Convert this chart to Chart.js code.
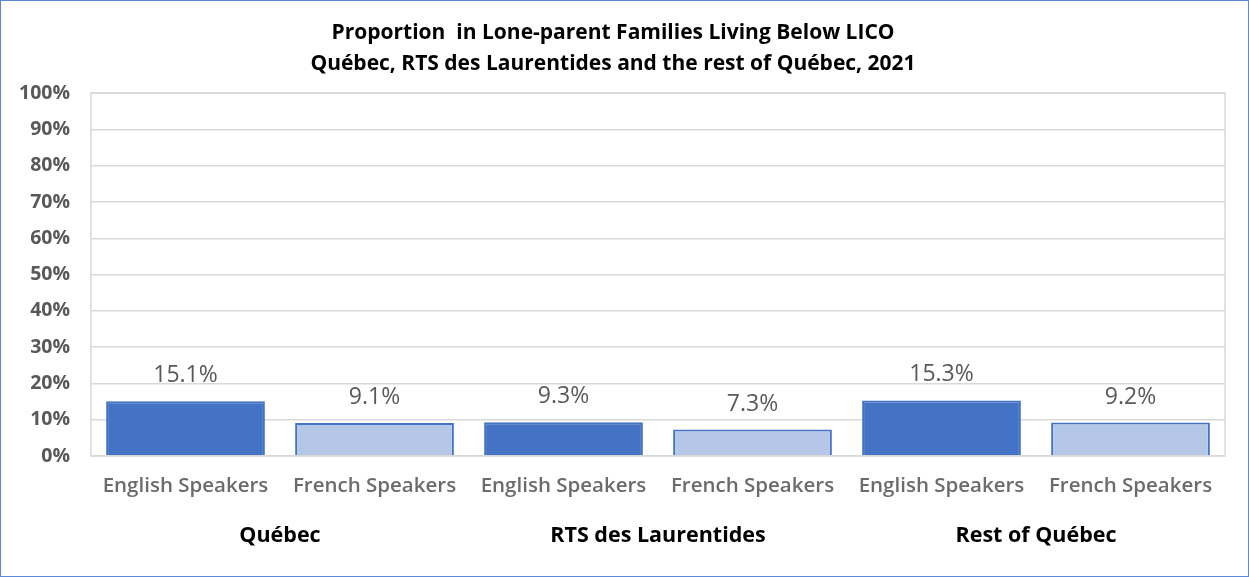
<!DOCTYPE html>
<html>
<head>
<meta charset="utf-8">
<script src="https://cdn.jsdelivr.net/npm/chart.js@4/dist/chart.umd.min.js"></script>
<style>
  html, body { margin: 0; padding: 0; background: #fff; }
  #wrap { width: 1249px; height: 577px; box-sizing: border-box; border: 1px solid #5a8ad6; }
  canvas { display: block; }
</style>
</head>
<body>
<div id="wrap"><canvas id="chart" width="1247" height="575"></canvas></div>
<script>
// Chart data
const titleLines = ["Proportion  in Lone-parent Families Living Below LICO", "Québec, RTS des Laurentides and the rest of Québec, 2021"];
const regions = ["Québec", "RTS des Laurentides", "Rest of Québec"];
const speakers = ["English Speakers", "French Speakers"];
const values = [15.1, 9.1, 9.3, 7.3, 15.3, 9.2];
const yTicks = [0, 10, 20, 30, 40, 50, 60, 70, 80, 90, 100];

const FONT = "'Open Sans', Lato, sans-serif";
const englishColor = "#4472c4";
const frenchColor = "#b4c7e7";

// one bar label per speaker per region
const labels = [];
regions.forEach(() => speakers.forEach(s => labels.push(s)));
const barColors = labels.map(l => l === speakers[0] ? englishColor : frenchColor);

// Draws the value above each bar
const valueLabels = {
  id: "valueLabels",
  afterDatasetsDraw(chart) {
    const ctx = chart.ctx;
    const meta = chart.getDatasetMeta(0);
    ctx.save();
    ctx.font = "23px " + FONT;
    ctx.fillStyle = "#595959";
    ctx.textAlign = "center";
    ctx.textBaseline = "alphabetic";
    meta.data.forEach((bar, i) => {
      ctx.fillText(values[i].toFixed(1) + "%", bar.x, bar.y - 19);
    });
    ctx.restore();
  }
};

// Gray frame round the plot area
const plotFrame = {
  id: "plotFrame",
  afterDraw(chart) {
    const a = chart.chartArea;
    const ctx = chart.ctx;
    ctx.save();
    ctx.strokeStyle = "#d9d9d9";
    ctx.lineWidth = 1.5;
    ctx.strokeRect(a.left, a.top, a.right - a.left, a.bottom - a.top);
    ctx.restore();
  }
};

new Chart(document.getElementById("chart"), {
  type: "bar",
  data: {
    labels: labels,
    datasets: [{
      data: values,
      backgroundColor: barColors,
      borderColor: englishColor,
      borderWidth: 2,
      barPercentage: 0.84,
      categoryPercentage: 1.0,
    }]
  },
  options: {
    responsive: false,
    animation: false,
    layout: { padding: { right: 23, left: 0, top: 0, bottom: 0 } },
    plugins: {
      legend: { display: false },
      tooltip: { enabled: false },
      title: {
        display: true,
        text: titleLines,
        color: "#000",
        font: { family: FONT, size: 21, weight: "bold", lineHeight: 1.48 },
        padding: { top: 16, bottom: 14 },
      },
    },
    scales: {
      x: {
        position: "bottom",
        grid: { display: false, drawTicks: false },
        border: { display: false },
        ticks: { color: "#6b6b6b", font: { family: FONT, size: 20.5, weight: "600" }, padding: 18, maxRotation: 0, autoSkip: false },
        afterFit(scale) { scale.height = 50; },
      },
      x2: {
        type: "category",
        labels: regions,
        position: "bottom",
        offset: true,
        grid: { display: false, drawTicks: false },
        border: { display: false },
        ticks: { color: "#000", font: { family: FONT, size: 21.5, weight: "bold" }, padding: 17, maxRotation: 0 },
        afterFit(scale) { scale.height = 70; },
      },
      y: {
        min: 0,
        max: 100,
        afterBuildTicks(scale) { scale.ticks = yTicks.map(v => ({ value: v })); },
        ticks: {
          color: "#595959",
          font: { family: FONT, size: 19.5, weight: "bold" },
          padding: 21,
          callback: v => v + "%",
        },
        grid: { color: "#d9d9d9", lineWidth: 1.5, drawTicks: false },
        border: { display: false },
        afterFit(scale) { scale.width = 90; },
      }
    }
  },
  plugins: [valueLabels, plotFrame]
});
</script>
</body>
</html>
